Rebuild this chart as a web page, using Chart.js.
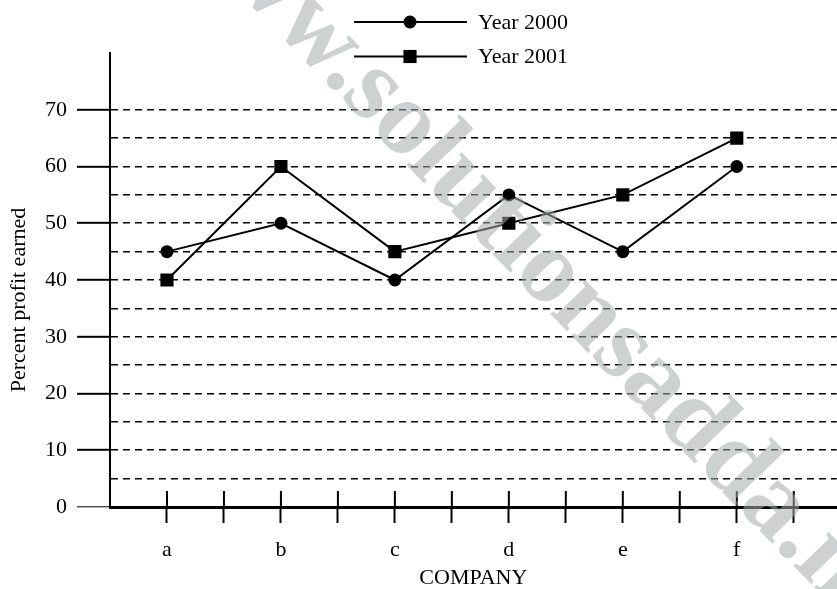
<!DOCTYPE html>
<html>
<head>
<meta charset="utf-8">
<script src="https://cdn.jsdelivr.net/npm/chart.js@4.4.1/dist/chart.umd.min.js"></script>
<style>
html, body { margin: 0; padding: 0; background: #fff; overflow: hidden; }
/* el original esta recortado por la derecha */
#marco { width: 846px; height: 589px; position: relative; }
</style>
</head>
<body>
<div id="marco"><canvas id="grafico"></canvas></div>
<script>
// Datos
const empresas = ['a', 'b', 'c', 'd', 'e', 'f'];
const anio2000 = [45, 50, 40, 55, 45, 60];
const anio2001 = [40, 60, 45, 50, 55, 65];
const nombresSerie = ['Year 2000', 'Year 2001'];
const ticksY = [0, 10, 20, 30, 40, 50, 60, 70];
const tituloY = 'Percent profit earned';
const tituloX = 'COMPANY';
const marcaAgua = 'www.solutionsadda.in';

const fuente = "'Liberation Serif', 'Times New Roman', serif";
const transparente = 'rgba(0,0,0,0)';

// Convertir categorias a puntos {x, y} sobre un eje lineal
const aPuntos = vals => empresas.map((c, i) => ({ x: i, y: vals[i] }));

// Plugin: marcas superiores del eje x, titulo y, leyenda y marca de agua
const extras = {
    id: 'extras',
    afterDraw(chart) {
        const ctx = chart.ctx;
        const ejeX = chart.scales.x;
        const ejeY = chart.scales.y;
        const y0 = ejeY.getPixelForValue(0);

        ctx.save();
        ctx.strokeStyle = '#000';
        ctx.lineWidth = 2;
        ejeX.ticks.forEach(t => {
            if (t.value < 0) return;
            const px = ejeX.getPixelForValue(t.value);
            ctx.beginPath();
            ctx.moveTo(px, y0 - 16);
            ctx.lineTo(px, y0);
            ctx.stroke();
        });
        ctx.restore();

        // titulo del eje y
        ctx.save();
        ctx.translate(25, 300);
        ctx.rotate(-Math.PI / 2);
        ctx.font = '22px ' + fuente;
        ctx.fillStyle = '#000';
        ctx.textAlign = 'center';
        ctx.textBaseline = 'alphabetic';
        ctx.fillText(tituloY, 0, 0);
        ctx.restore();

        // leyenda
        chart.data.datasets.forEach((ds, i) => {
            const ly = 22 + i * 34.5;
            ctx.save();
            ctx.strokeStyle = ds.borderColor;
            ctx.lineWidth = ds.borderWidth;
            ctx.beginPath();
            ctx.moveTo(354, ly);
            ctx.lineTo(467, ly);
            ctx.stroke();
            ctx.fillStyle = ds.pointBackgroundColor;
            if (ds.pointStyle === 'rect') {
                const lado = ds.pointRadius * Math.SQRT1_2;
                ctx.fillRect(410 - lado, ly - lado, 2 * lado, 2 * lado);
            } else {
                ctx.beginPath();
                ctx.arc(410, ly, ds.pointRadius, 0, Math.PI * 2);
                ctx.fill();
            }
            ctx.font = '22px ' + fuente;
            ctx.fillStyle = '#000';
            ctx.textAlign = 'left';
            ctx.textBaseline = 'middle';
            ctx.fillText(ds.label, 478, ly + 1);
            ctx.restore();
        });

        // marca de agua en diagonal
        ctx.save();
        const tam = 106;
        ctx.font = 'bold ' + tam + 'px ' + fuente;
        const antes = ctx.measureText('www').width + ctx.measureText('.').width / 2;
        ctx.translate(339, 86);
        ctx.rotate(46 * Math.PI / 180);
        ctx.fillStyle = 'rgba(165,172,172,0.55)';
        ctx.textAlign = 'left';
        ctx.textBaseline = 'alphabetic';
        ctx.fillText(marcaAgua, -antes, tam * 0.06);
        ctx.restore();
    }
};

new Chart(document.getElementById('grafico'), {
    type: 'line',
    data: {
        datasets: [{
            label: nombresSerie[0],
            data: aPuntos(anio2000),
            borderColor: '#000',
            borderWidth: 2,
            pointStyle: 'circle',
            pointRadius: 6.5,
            pointBackgroundColor: '#000',
            pointBorderColor: '#000',
            pointBorderWidth: 0,
            tension: 0
        }, {
            label: nombresSerie[1],
            data: aPuntos(anio2001),
            borderColor: '#000',
            borderWidth: 2,
            pointStyle: 'rect',
            pointRadius: 9.3,
            pointBackgroundColor: '#000',
            pointBorderColor: '#000',
            pointBorderWidth: 0,
            tension: 0
        }]
    },
    options: {
        responsive: true,
        maintainAspectRatio: false,
        animation: false,
        layout: { padding: { top: 53, left: 0, right: 0, bottom: 0 } },
        plugins: {
            legend: { display: false },
            tooltip: { enabled: false }
        },
        scales: {
            x: {
                type: 'linear',
                min: -0.5,
                max: 5.877,
                afterFit: s => { s.height = 82; s.paddingLeft = 0; s.paddingRight = 0; },
                ticks: {
                    stepSize: 0.5,
                    includeBounds: false,
                    autoSkip: false,
                    maxRotation: 0,
                    padding: 14,
                    color: '#000',
                    font: { family: fuente, size: 22 },
                    callback: v => Number.isInteger(v) && v >= 0 ? (empresas[v] || '') : ''
                },
                grid: {
                    display: true,
                    drawOnChartArea: false,
                    drawTicks: true,
                    tickLength: 16,
                    tickWidth: 2,
                    tickColor: c => c.tick && c.tick.value >= 0 ? '#000' : transparente
                },
                border: { display: true, color: '#000', width: 3 },
                title: {
                    display: true,
                    text: tituloX,
                    color: '#000',
                    font: { family: fuente, size: 22, lineHeight: 1 },
                    padding: { top: 0, bottom: 0 }
                }
            },
            y: {
                min: 0,
                max: 80,
                afterFit: s => { s.width = 110; s.paddingTop = 0; s.paddingBottom = 0; },
                ticks: {
                    stepSize: 5,
                    autoSkip: false,
                    padding: 10,
                    color: '#000',
                    font: { family: fuente, size: 22 },
                    callback: v => ticksY.includes(v) ? String(v) : ''
                },
                grid: {
                    lineWidth: 1.6,
                    color: c => c.tick && c.tick.value > 0 && c.tick.value <= 70 ? '#000' : transparente,
                    tickLength: 33,
                    tickWidth: c => c.tick && c.tick.value === 0 ? 1 : 2,
                    tickColor: c => c.tick && ticksY.includes(c.tick.value) ? '#000' : transparente
                },
                border: {
                    display: true,
                    color: '#000',
                    width: 2,
                    dash: c => c.type === 'tick' ? [7, 5] : []
                }
            }
        }
    },
    plugins: [extras]
});
</script>
</body>
</html>
